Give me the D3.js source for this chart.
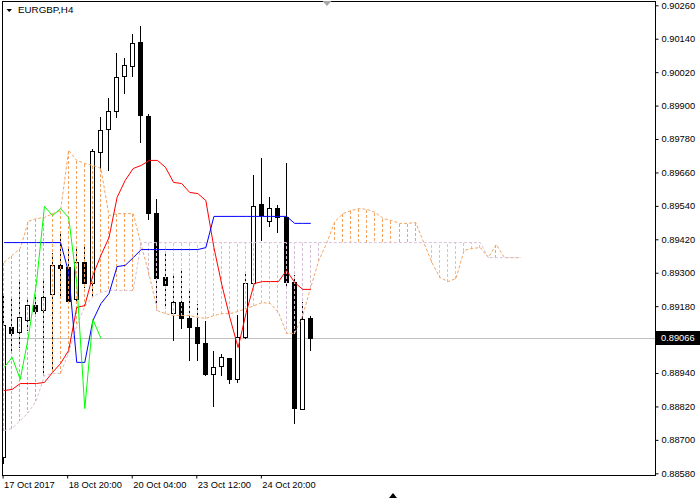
<!DOCTYPE html>
<html><head><meta charset="utf-8">
<script src="https://cdn.jsdelivr.net/npm/d3@7"></script>
<style>
body{margin:0;background:#fff}
svg{display:block}
text{font-family:"Liberation Sans",Arial,sans-serif;font-size:9.3px;fill:#000}
</style>
</head><body>
<svg id="c" width="700" height="498"></svg>
<script>
const symbol = "EURGBP,H4";
const open  = [0.88638,0.89105,0.89087,0.89130,0.89184,0.89166,0.89224,0.89328,0.89321,0.89206,0.89339,0.89263,0.89733,0.89816,0.89881,0.90006,0.90042,0.90128,0.89863,0.89514,0.89285,0.89155,0.89195,0.89138,0.89105,0.89048,0.88936,0.88965,0.88994,0.88919,0.89069,0.89263,0.89547,0.89486,0.89532,0.89500,0.89267,0.88811,0.89138];
const high  = [0.89227,0.89209,0.89274,0.89213,0.89220,0.89285,0.89374,0.89443,0.89392,0.89400,0.89407,0.89748,0.89863,0.89931,0.90092,0.90074,0.90161,0.90189,0.89873,0.89568,0.89371,0.89303,0.89310,0.89249,0.89191,0.89130,0.89023,0.89012,0.88998,0.89152,0.89303,0.89654,0.89715,0.89575,0.89547,0.89698,0.89295,0.89199,0.89148];
const low   = [0.88617,0.89015,0.89033,0.89094,0.89148,0.88944,0.88951,0.89220,0.89191,0.89202,0.89249,0.89216,0.89669,0.89669,0.89859,0.89945,0.90006,0.89769,0.89493,0.89191,0.89184,0.89059,0.89102,0.88987,0.88987,0.88933,0.88822,0.88933,0.88904,0.88908,0.89066,0.89263,0.89418,0.89468,0.89446,0.89245,0.88761,0.88811,0.89023];
const close = [0.89112,0.89084,0.89141,0.89184,0.89163,0.89213,0.89328,0.89317,0.89199,0.89339,0.89263,0.89737,0.89812,0.89881,0.90003,0.90046,0.90125,0.89866,0.89514,0.89281,0.89256,0.89195,0.89138,0.89105,0.89048,0.88936,0.88962,0.88998,0.88919,0.89069,0.89263,0.89540,0.89507,0.89532,0.89500,0.89267,0.88814,0.89134,0.89066];

const tenkan = [0.88879,0.88883,0.88904,0.88904,0.88904,0.88908,0.88944,0.88976,0.89023,0.89177,0.89184,0.89292,0.89364,0.89428,0.89572,0.89633,0.89676,0.89687,0.89705,0.89705,0.89680,0.89626,0.89622,0.89590,0.89586,0.89561,0.89392,0.89256,0.89138,0.89033,0.89159,0.89263,0.89270,0.89270,0.89270,0.89310,0.89267,0.89242,0.89242];
const kijun = [0.89410,0.89410,0.89410,0.89410,0.89410,0.89410,0.89410,0.89410,0.89303,0.88980,0.88980,0.89130,0.89191,0.89227,0.89324,0.89328,0.89356,0.89385,0.89385,0.89385,0.89385,0.89385,0.89385,0.89385,0.89385,0.89392,0.89504,0.89504,0.89504,0.89504,0.89504,0.89504,0.89504,0.89504,0.89504,0.89504,0.89479,0.89479,0.89479];
const chikou = [0.88962,0.88998,0.88919,0.89069,0.89263,0.89540,0.89507,0.89532,0.89500,0.89267,0.88814,0.89134,0.89066];
const spanA = [0.89339,0.89364,0.89389,0.89486,0.89496,0.89500,0.89514,0.89525,0.89741,0.89705,
  0.89694,0.89687,0.89676,0.89507,0.89514,0.89514,0.89514,0.89400,0.89292,0.89166,
  0.89155,0.89148,0.89148,0.89148,0.89141,0.89138,0.89148,0.89155,0.89155,0.89163,
  0.89173,0.89184,0.89195,0.89191,0.89159,0.89084,0.89084,0.89148,0.89249,0.89346,
  0.89410,0.89486,0.89514,0.89525,0.89532,0.89529,0.89518,0.89496,0.89489,0.89479,
  0.89479,0.89482,0.89410,0.89339,0.89285,0.89270,0.89281,0.89382,0.89389,0.89392,
  0.89356,0.89403,0.89356,0.89356,0.89356];
const spanB = [0.88735,0.88743,0.88771,0.88800,0.88843,0.88933,0.88940,0.88940,0.89015,0.89112,
  0.89181,0.89216,0.89231,0.89238,0.89238,0.89238,0.89238,0.89410,0.89410,0.89410,
  0.89410,0.89410,0.89410,0.89410,0.89410,0.89410,0.89410,0.89410,0.89410,0.89410,
  0.89410,0.89410,0.89410,0.89410,0.89410,0.89410,0.89410,0.89410,0.89410,0.89410,
  0.89410,0.89410,0.89410,0.89410,0.89410,0.89410,0.89410,0.89410,0.89410,0.89410,
  0.89410,0.89410,0.89410,0.89410,0.89410,0.89410,0.89410,0.89410,0.89410,0.89410,
  0.89356,0.89356,0.89356,0.89356,0.89356];
const lastPrice = 0.89066;
const yTickLabels = ["0.90260","0.90140","0.90020","0.89900","0.89780","0.89660","0.89540","0.89420","0.89300","0.89180","0.88940","0.88820","0.88700","0.88580"];
const xTickBars = [0, 8, 16, 24, 32];
const xTickLabels = ["17 Oct 2017","18 Oct 20:00","20 Oct 04:00","23 Oct 12:00","24 Oct 20:00"];

const svg = d3.select("#c");
const L = 3, T = 2, R = 655, B = 475;
const x = d3.scaleLinear().domain([0, 64]).range([3.6, 520.1]);
const y = d3.scaleLinear().domain([0.88580, 0.90260]).range([473.3, 5.3]);
const px = i => Math.floor(x(i)) + 0.5;
const py = v => Math.round(y(v)) + 0.5;

svg.append("defs").append("clipPath").attr("id","clip")
  .append("rect").attr("x",L).attr("y",T).attr("width",R-L).attr("height",B-T);

const plot = svg.append("g").attr("clip-path","url(#clip)");

// bid line
plot.append("line").attr("x1",L).attr("x2",R).attr("y1",py(lastPrice)).attr("y2",py(lastPrice))
  .attr("stroke","#c0c0c0").attr("stroke-width",1);

// candles
const bars = d3.range(open.length);
const cg = plot.append("g").attr("shape-rendering","crispEdges");
cg.selectAll("line.w").data(bars).join("line")
  .attr("x1",px).attr("x2",px)
  .attr("y1",i=>py(high[i])).attr("y2",i=>py(low[i]))
  .attr("stroke","#000");
cg.selectAll("rect.b").data(bars).join("rect")
  .attr("x",i=>px(i)-2).attr("width",4)
  .attr("y",i=>py(Math.max(open[i],close[i])))
  .attr("height",i=>Math.max(1, py(Math.min(open[i],close[i])) - py(Math.max(open[i],close[i]))))
  .attr("fill",i=>close[i]>=open[i] ? "#fff" : "#000")
  .attr("stroke","#000");

// cloud hatch
const cloud = d3.range(spanA.length);
plot.append("g").attr("shape-rendering","crispEdges")
  .selectAll("line").data(cloud).join("line")
  .attr("x1",px).attr("x2",px)
  .attr("y1",i=>py(spanA[i])).attr("y2",i=>py(spanB[i]))
  .attr("stroke",i=>spanA[i]>=spanB[i] ? "#F4A460" : "#D8BFD8")
  .attr("stroke-dasharray","3,2");

const line = arr => d3.line().x((d,i)=>x(i)+0.5).y(d=>y(d)+0.5)(arr);
plot.append("path").attr("d",line(spanA)).attr("fill","none").attr("stroke","#F4A460").attr("stroke-dasharray","3,2");
plot.append("path").attr("d",line(spanB)).attr("fill","none").attr("stroke","#D8BFD8").attr("stroke-dasharray","3,2");
plot.append("path").attr("d",line(tenkan)).attr("fill","none").attr("stroke","#ff0000");
plot.append("path").attr("d",line(kijun)).attr("fill","none").attr("stroke","#0000ff");
plot.append("path").attr("d",line(chikou)).attr("fill","none").attr("stroke","#00ff00");

// frame
svg.append("rect").attr("x",L-0.5).attr("y",T-0.5).attr("width",R-L+1).attr("height",B-T+1)
  .attr("fill","none").attr("stroke","#000").attr("shape-rendering","crispEdges");

// y axis
const ya = svg.append("g").attr("transform",`translate(${R+0.5},0)`)
  .call(d3.axisRight(y).tickValues(yTickLabels.map(Number)).tickSize(3).tickPadding(3).tickFormat(d3.format(".5f")));
ya.select(".domain").remove();
ya.selectAll("text").style("font-size","9.3px").attr("fill","#000");
ya.selectAll("line").attr("stroke","#000");

// price label
const pl = svg.append("g");
pl.append("rect").attr("x",R+1).attr("y",Math.round(y(lastPrice))-7).attr("width",44).attr("height",14).attr("fill","#000");
pl.append("text").attr("x",R+6).attr("y",y(lastPrice)).attr("dy","0.35em").style("fill","#fff").text(d3.format(".5f")(lastPrice));

// x axis
const xa = svg.append("g").attr("transform",`translate(-1,${B+0.5})`)
  .call(d3.axisBottom(x).tickValues(xTickBars).tickSize(3).tickPadding(3).tickFormat((d,i)=>xTickLabels[i]));
xa.select(".domain").remove();
xa.selectAll("text").attr("text-anchor","start").attr("x",1).style("font-size","9.3px").attr("fill","#000");
xa.selectAll("line").attr("stroke","#000");

// title
svg.append("path").attr("d","M6.5,9 L12,9 L9.25,12 Z").attr("fill","#000");
svg.append("text").attr("x",18).attr("y",13).style("font-size","9.8px").text(symbol);

// shift markers
svg.append("path").attr("d","M322.5,1 L331.5,1 L327,6 Z").attr("fill","#a8a8a8");
svg.append("path").attr("d","M389,498 L397,498 L393,493 Z").attr("fill","#000");
</script>
</body></html>
